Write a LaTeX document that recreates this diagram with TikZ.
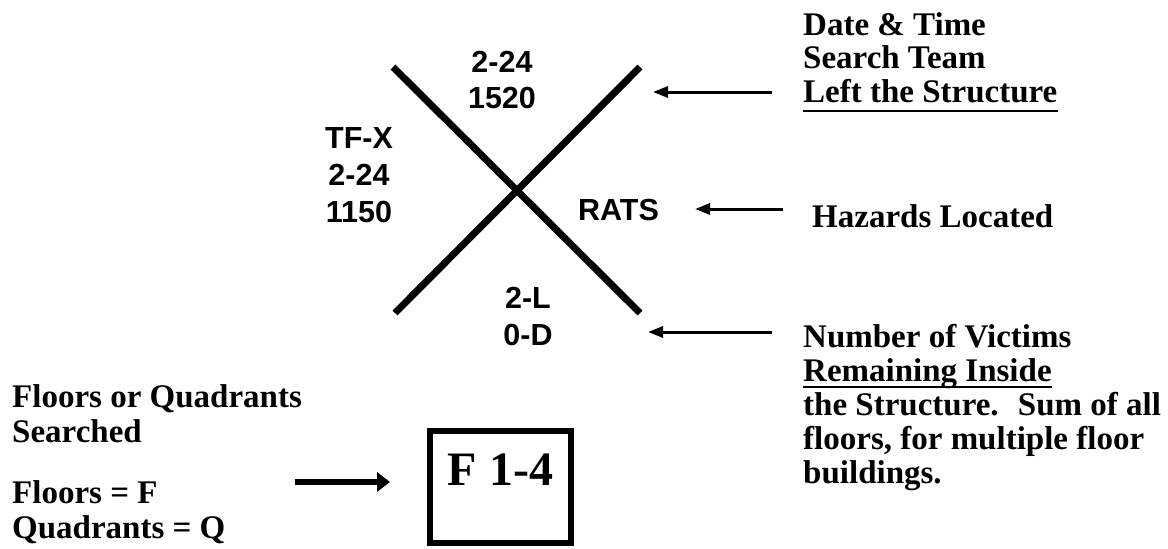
\documentclass[tikz,border=0pt]{standalone}
\usepackage{fontspec}
\setmainfont{Liberation Serif}
\newfontfamily\arialfont{Liberation Sans}
\usetikzlibrary{arrows.meta}
\tikzset{
  note/.style={font=\fontsize{33}{36}\selectfont\bfseries, inner sep=0pt, anchor=base west},
  sanslabel/.style={font=\arialfont\bfseries\fontsize{30.5}{36}\selectfont, inner sep=0pt, anchor=base},
  xbar/.style={line width=7pt},
  thinarrow/.style={line width=3pt, -{Triangle[length=15pt,width=11pt]}},
  thickarrow/.style={line width=6pt, -{Triangle[length=13pt,width=19pt]}},
  uline/.style={line width=2pt},
  floorbox/.style={draw, line width=6pt, minimum width=141pt, minimum height=112pt, inner sep=0pt}
}
\begin{document}
\begin{tikzpicture}[x=1pt,y=-1pt]
\useasboundingbox (0,0) rectangle (1168,549);
% the X
\coordinate (xa) at (393,67);
\coordinate (xb) at (640,313);
\coordinate (xc) at (640,67);
\coordinate (xd) at (395,313);
\draw[xbar] (xa) -- (xb);
\draw[xbar] (xc) -- (xd);
% quadrant labels
\node[sanslabel] (top1) at (502,72) {2-24};
\node[sanslabel] (top2) at (502,108) {1520};
\node[sanslabel] (left1) at (359,148) {TF-X};
\node[sanslabel] (left2) at (359,185) {2-24};
\node[sanslabel] (left3) at (359,222) {1150};
\node[sanslabel] (rats) at (618.5,220) {RATS};
\node[sanslabel] (bot1) at (528,308) {2-L};
\node[sanslabel] (bot2) at (528,345) {0-D};
% right notes
\node[note] (d1) at (803,35) {Date \& Time};
\node[note] (d2) at (803,68.5) {Search Team};
\node[note] (d3) at (803,102) {Left the Structure};
\draw[uline] ([yshift=-8.5pt]d3.base west) -- ([yshift=-8.5pt]d3.base east);
\node[note] (hz) at (812,227) {Hazards Located};
\node[note] (v1) at (803,347) {Number of Victims};
\node[note] (v2) at (803,381) {Remaining Inside};
\draw[uline] ([yshift=-6pt]v2.base west) -- ([yshift=-6pt]v2.base east);
\node[note] (v3) at (803,415) {the Structure.~ Sum of all};
\node[note] (v4) at (803,449) {floors, for multiple floor};
\node[note] (v5) at (803,483) {buildings.};
% arrows on the right
\coordinate (a1s) at (772,92);  \coordinate (a1e) at (653,92);
\coordinate (a2s) at (783,209); \coordinate (a2e) at (695,209);
\coordinate (a3s) at (772,332); \coordinate (a3e) at (648,332);
\draw[thinarrow] (a1s) -- (a1e);
\draw[thinarrow] (a2s) -- (a2e);
\draw[thinarrow] (a3s) -- (a3e);
% left notes
\node[note] (f1) at (12,407) {Floors or Quadrants};
\node[note] (f2) at (12,442) {Searched};
\node[note] (f3) at (12,503) {Floors = F};
\node[note] (f4) at (12,538) {Quadrants = Q};
% box
\node[floorbox] (box) at (500,486.5) {};
\node[font=\fontsize{48}{50}\selectfont\bfseries, inner sep=0pt, anchor=base] (boxtext) at (500.5,485) {F 1-4};
\coordinate (a4s) at (295,482); \coordinate (a4e) at (390,482);
\draw[thickarrow] (a4s) -- (a4e);
\end{tikzpicture}
\end{document}
